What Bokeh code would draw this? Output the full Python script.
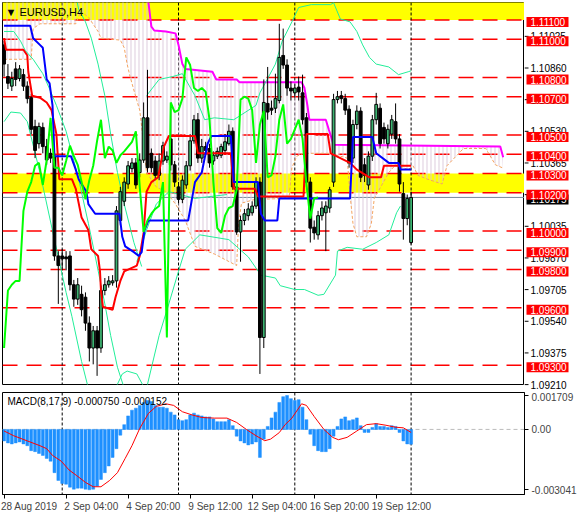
from bokeh.plotting import figure
from bokeh.models import (Range1d, FixedTicker, Span, BoxAnnotation, Label, ColumnDataSource)
from bokeh.layouts import column, row
from bokeh.core.properties import value
from bokeh.embed import file_html
from bokeh.resources import INLINE

# ---------------- data (EURUSD H4 candles, bar index 0..105) ----------------
OPEN = [1.10970, 1.10805, 1.10755, 1.10845, 1.10795, 1.10815, 1.10755, 1.10695, 1.10545, 1.10455,
        1.10540, 1.10440, 1.10405, 1.10390, 1.09870, 1.09870, 1.09865, 1.09870, 1.09720, 1.09645,
        1.09670, 1.09655, 1.09520, 1.09390, 1.09480, 1.09390, 1.09690, 1.09720, 1.09730, 1.09740,
        1.10055, 1.10155, 1.10245, 1.10325, 1.10355, 1.10305, 1.10370, 1.10590, 1.10405, 1.10365,
        1.10290, 1.10365, 1.10370, 1.10480, 1.10345, 1.10230, 1.10165, 1.10240, 1.10340, 1.10470,
        1.10580, 1.10380, 1.10440, 1.10430, 1.10365, 1.10390, 1.10395, 1.10420, 1.10455, 1.10520,
        1.10230, 1.09995, 1.10055, 1.10080, 1.10095, 1.10130, 1.10255, 1.09445, 1.10665, 1.10640,
        1.10640, 1.10680, 1.10915, 1.10865, 1.10745, 1.10720, 1.10750, 1.10720, 1.10590, 1.10255,
        1.10020, 1.09980, 1.10080, 1.10095, 1.10120, 1.10255, 1.10685, 1.10705, 1.10690, 1.10635,
        1.10380, 1.10555, 1.10625, 1.10345, 1.10240, 1.10390, 1.10580, 1.10640, 1.10540, 1.10455,
        1.10505, 1.10570, 1.10480, 1.10195, 1.10065, 1.09940]
HIGH = [1.10990, 1.10870, 1.10830, 1.10880, 1.10865, 1.10845, 1.10780, 1.10715, 1.10580, 1.10565,
        1.10565, 1.10480, 1.10430, 1.10405, 1.09895, 1.09905, 1.09895, 1.09895, 1.09745, 1.09755,
        1.09715, 1.09680, 1.09555, 1.09505, 1.09505, 1.09715, 1.09755, 1.09765, 1.09770, 1.10130,
        1.10230, 1.10280, 1.10365, 1.10380, 1.10380, 1.10405, 1.10670, 1.10840, 1.10430, 1.10390,
        1.10405, 1.10465, 1.10415, 1.10640, 1.10365, 1.10255, 1.10290, 1.10365, 1.10505, 1.10605,
        1.10615, 1.10480, 1.10465, 1.10455, 1.10415, 1.10435, 1.10455, 1.10505, 1.10555, 1.10540,
        1.10255, 1.10080, 1.10115, 1.10145, 1.10155, 1.10280, 1.10280, 1.10790, 1.10855, 1.10680,
        1.10820, 1.11080, 1.11055, 1.10895, 1.10780, 1.10765, 1.10805, 1.10815, 1.10615, 1.10280,
        1.10055, 1.10105, 1.10155, 1.10155, 1.10230, 1.10715, 1.10730, 1.10730, 1.10715, 1.10655,
        1.10580, 1.10655, 1.10645, 1.10380, 1.10415, 1.10605, 1.10720, 1.10665, 1.10565, 1.10555,
        1.10605, 1.10665, 1.10505, 1.10255, 1.10190, 1.10205]
LOW = [1.10805, 1.10740, 1.10730, 1.10755, 1.10780, 1.10730, 1.10665, 1.10505, 1.10380, 1.10430,
       1.10405, 1.10345, 1.10355, 1.09845, 1.09620, 1.09805, 1.09795, 1.09690, 1.09605, 1.09615,
       1.09555, 1.09480, 1.09320, 1.09305, 1.09245, 1.09365, 1.09665, 1.09705, 1.09715, 1.09705,
       1.10030, 1.10130, 1.10220, 1.10305, 1.10220, 1.10280, 1.10355, 1.10305, 1.10305, 1.10265,
       1.10265, 1.10345, 1.10355, 1.10315, 1.10230, 1.10145, 1.10145, 1.10220, 1.10315, 1.10455,
       1.10355, 1.10355, 1.10395, 1.10330, 1.10345, 1.10375, 1.10380, 1.10405, 1.10445, 1.10215,
       1.09980, 1.09840, 1.10030, 1.10055, 1.10080, 1.10115, 1.09255, 1.09390, 1.10580, 1.10605,
       1.10615, 1.10665, 1.10845, 1.10705, 1.10680, 1.10695, 1.10680, 1.10555, 1.10230, 1.09940,
       1.09955, 1.09955, 1.10055, 1.09895, 1.10095, 1.10230, 1.10665, 1.10665, 1.10605, 1.10330,
       1.10355, 1.10530, 1.10255, 1.10255, 1.10215, 1.10365, 1.10555, 1.10430, 1.10455, 1.10430,
       1.10480, 1.10455, 1.10205, 1.09955, 1.10030, 1.09930]
CLOSE = [1.10870, 1.10770, 1.10795, 1.10790, 1.10845, 1.10755, 1.10690, 1.10530, 1.10420, 1.10545,
         1.10440, 1.10370, 1.10380, 1.09870, 1.09820, 1.09855, 1.09855, 1.09720, 1.09645, 1.09720,
         1.09590, 1.09520, 1.09390, 1.09480, 1.09390, 1.09690, 1.09720, 1.09740, 1.09740, 1.10105,
         1.10205, 1.10255, 1.10340, 1.10355, 1.10240, 1.10370, 1.10590, 1.10330, 1.10330, 1.10290,
         1.10365, 1.10445, 1.10390, 1.10345, 1.10255, 1.10165, 1.10265, 1.10340, 1.10470, 1.10580,
         1.10380, 1.10440, 1.10420, 1.10355, 1.10395, 1.10415, 1.10440, 1.10465, 1.10520, 1.10230,
         1.09995, 1.10055, 1.10090, 1.10115, 1.10130, 1.10255, 1.09445, 1.10670, 1.10620, 1.10630,
         1.10690, 1.10905, 1.10865, 1.10745, 1.10730, 1.10745, 1.10725, 1.10580, 1.10255, 1.10015,
         1.09990, 1.10080, 1.10120, 1.10130, 1.10215, 1.10685, 1.10700, 1.10690, 1.10630, 1.10355,
         1.10555, 1.10625, 1.10280, 1.10290, 1.10390, 1.10580, 1.10660, 1.10455, 1.10480, 1.10530,
         1.10580, 1.10480, 1.10245, 1.10065, 1.10170, 1.10175]
CHIKOU_SHIFT = 24

# Ichimoku lines (bar index, price)
TENKAN_X = [0, 0.5, 5, 6, 6.25, 7.25, 9.25, 11, 12.25, 12.5, 13.5, 14.25, 17.5, 18.5, 20, 21.75, 22.5,
            24.25, 24.75, 25, 25.5, 28, 28.75, 30, 31, 34.25, 35, 36, 36.75, 38, 39.75, 41.25, 42.5,
            49.25, 50, 58.5, 59.25, 64.75, 65.5, 77.25, 78, 83.5, 84.25, 89.25, 91, 94.25, 97.25, 98, 105]
TENKAN_Y = [1.11005, 1.10945, 1.10945, 1.10915, 1.10830, 1.10705, 1.10695, 1.10670, 1.10630, 1.10605,
            1.10505, 1.10270, 1.10270, 1.10220, 1.10070, 1.10005, 1.09905, 1.09870, 1.09790, 1.09690,
            1.09605, 1.09590, 1.09655, 1.09740, 1.09790, 1.09820, 1.09870, 1.09990, 1.10205, 1.10255,
            1.10280, 1.10440, 1.10495, 1.10495, 1.10405, 1.10405, 1.10220, 1.10220, 1.10180, 1.10180,
            1.10505, 1.10505, 1.10405, 1.10355, 1.10320, 1.10280, 1.10280, 1.10340, 1.10340]
KIJUN_X = [0, 6.75, 7.5, 9.25, 10, 11, 11.75, 12.5, 13, 17.25, 18.5, 19.25, 21.25, 21.75, 23.5, 29.75,
           30.5, 31.25, 33.5, 34.75, 35.5, 36.25, 37.25, 47.5, 48.5, 49.25, 51, 52.5, 53.5, 58.5, 59.25,
           65.5, 66.25, 67.25, 70.5, 71, 89.25, 90, 95, 96, 99.25, 101.75, 102.25, 105]
KIJUN_Y = [1.11070, 1.11070, 1.11005, 1.10970, 1.10955, 1.10790, 1.10770, 1.10655, 1.10390, 1.10390,
           1.10320, 1.10270, 1.10205, 1.10140, 1.10090, 1.10090, 1.09970, 1.09920, 1.09890, 1.09870,
           1.09890, 1.10005, 1.10055, 1.10055, 1.10170, 1.10255, 1.10305, 1.10455, 1.10495, 1.10495,
           1.10255, 1.10255, 1.10090, 1.10055, 1.10055, 1.10170, 1.10170, 1.10490, 1.10490, 1.10405,
           1.10355, 1.10355, 1.10320, 1.10320]
SPAN_A_X = [0, 7, 7.5, 9.25, 18.5, 19.75, 21.75, 24.25, 25, 30, 31, 31.75, 32.5, 34.25, 35, 36, 36.75,
            39.25, 41.75, 44.25, 46.75, 49.25, 54.25, 60, 60.5, 61.25, 64.75, 73.5, 74.25, 75.5, 77.25,
            84.25, 88.5, 89.25, 90, 91, 93.5, 94.75, 95.5, 99.25, 101, 104.25, 105.5, 106.75, 109.25,
            113, 114.25, 118.5, 124.25, 126.75, 128.5]
SPAN_A_Y = [1.10895, 1.10895, 1.11055, 1.11080, 1.11080, 1.11145, 1.11115, 1.11040, 1.11005, 1.10995,
            1.10955, 1.10870, 1.10805, 1.10680, 1.10630, 1.10455, 1.10305, 1.10230, 1.10205, 1.10140,
            1.10055, 1.09920, 1.09880, 1.09820, 1.10040, 1.10145, 1.10165, 1.10170, 1.10330, 1.10390,
            1.10405, 1.10405, 1.10380, 1.10190, 1.10040, 1.09970, 1.09970, 1.10040, 1.10170, 1.10305,
            1.10345, 1.10320, 1.10340, 1.10290, 1.10270, 1.10245, 1.10340, 1.10430, 1.10430, 1.10345,
            1.10330]
SPAN_B_X = [0, 36.75, 37.25, 38, 38.75, 41.75, 44.25, 45, 46, 46.75, 53.75, 54.75, 60, 60.75, 76.75,
            77.5, 78.25, 78.75, 83, 83.75, 85, 128, 128.75]
SPAN_B_Y = [1.11255, 1.11255, 1.11190, 1.11065, 1.11045, 1.11040, 1.11030, 1.10970, 1.10870, 1.10845,
            1.10830, 1.10790, 1.10790, 1.10775, 1.10775, 1.10745, 1.10655, 1.10580, 1.10580, 1.10530,
            1.10450, 1.10440, 1.10385]

# thin band lines (bar index, price)
BAND_LINES = [
    ([0, 2.5, 4.25, 5.5, 7.5, 10, 11.75, 13.5, 16, 19.25, 21.75, 23.5, 26, 27.5, 29.25, 31],
     [1.11040, 1.11040, 1.10990, 1.10940, 1.10895, 1.10820, 1.10740, 1.10655, 1.10520, 1.10270,
      1.10040, 1.09870, 1.09620, 1.09455, 1.09290, 1.09180]),
    ([0, 1.75, 4.25, 6, 9.25, 13, 16, 17.5, 20, 21.75],
     [1.10570, 1.10620, 1.10615, 1.10570, 1.10305, 1.09955, 1.09680, 1.09555, 1.09320, 1.09180]),
    ([18.5, 19.25, 21, 22.5, 24.25, 26, 27.5, 29.25, 31, 33.5, 35.5],
     [1.11230, 1.11155, 1.11090, 1.11005, 1.10870, 1.10705, 1.10505, 1.10305, 1.10140, 1.09940, 1.09815]),
    ([34.25, 36.75, 39.25, 42.5, 49.25, 57.5],
     [1.09840, 1.10005, 1.10140, 1.10205, 1.10170, 1.10190]),
    ([28.75, 30.5, 31.75, 34.25, 36.25],
     [1.09180, 1.09255, 1.09270, 1.09255, 1.09180]),
    ([36.75, 40, 42.5, 45, 46.75, 50.5, 58, 63, 66.25, 70, 71.25, 75, 77.5, 81, 82.5, 85.5, 86, 88.5,
      92.5, 96, 99.25, 101.25, 102.25],
     [1.09180, 1.09455, 1.09620, 1.09790, 1.09905, 1.09980, 1.09955, 1.09865, 1.09770, 1.09755,
      1.09715, 1.09695, 1.09695, 1.09665, 1.09670, 1.09770, 1.09895, 1.09915, 1.09905, 1.09940,
      1.09980, 1.10095, 1.10130]),
    ([36.75, 40, 43.5, 46, 49.25, 51.75, 54.25, 59.25, 65, 66, 70, 71.75, 74.25, 76, 79.25, 84.25, 85,
      86.75, 89.25, 91, 92.5, 94.25, 96, 99.25, 101.75, 104.25, 105],
     [1.10705, 1.10790, 1.10805, 1.10820, 1.10705, 1.10580, 1.10590, 1.10580, 1.10655, 1.10720,
      1.10870, 1.10990, 1.11090, 1.11165, 1.11180, 1.11180, 1.11190, 1.11105, 1.11090, 1.11040,
      1.10970, 1.10905, 1.10870, 1.10855, 1.10815, 1.10830, 1.10835]),
]

# horizontal levels and zones
LEVELS = [1.11100, 1.11000, 1.10800, 1.10700, 1.10500, 1.10400, 1.10300, 1.10200,
          1.10000, 1.09900, 1.09800, 1.09600, 1.09300]
ZONES = [(1.11100, 1.11300), (1.10200, 1.10300)]
BID = 1.10175
PRICE_TICKS = [1.09210, 1.09375, 1.09540, 1.09705, 1.09870, 1.10035, 1.10200,
               1.10365, 1.10530, 1.10695, 1.10860, 1.11025]
SEPARATORS = [15, 45, 75, 105]

# MACD(8,17,9): histogram (x1e-5) and signal line
MACD_HIST = [-58, -68, -73, -68, -63, -73, -82, -107, -112, -121, -131, -146, -160, -218, -257, -272,
             -276, -291, -301, -296, -296, -301, -304.1, -301, -286, -252, -218, -184, -141, -97, -29,
             24, 68, 97, 107, 121, 136, 146, 141, 121, 112, 112, 107, 87, 73, 49, 44, 49, 73, 82, 73,
             68, 63, 63, 53, 39, 39, 39, 49, 19, -34, -58, -68, -78, -73, -63, -141, -49, 15, 58, 87,
             136, 165, 170.9, 155, 146, 150, 112, 49, -24, -82, -107, -112, -112, -97, -34, 15, 53, 63,
             44, 49, 58, 19, -15, -15, 10, 29, 15, 15, 10, 19, 15, -15, -58, -73, -75]
SIG_X = [0, 2.5, 6, 9.25, 11, 12.5, 14.75, 16.75, 18.75, 21, 23, 25, 27.25, 29.25, 31.25, 33, 35,
         37.25, 39.25, 41.75, 43.75, 46, 48.5, 51, 54.25, 57.5, 60, 62.5, 65, 67.25, 68.75, 71, 72.5,
         74.25, 76.75, 78, 80, 82.5, 84.75, 86.25, 88.5, 91, 93.5, 96, 98.5, 101, 103, 105]
SIG_V = [-8, -32, -58, -82, -97, -131, -160, -204, -233, -267, -289, -289, -257, -218, -146, -82, 5,
         81, 116, 129, 121, 89, 73, 60, 57, 57, 35, 0, -32, -57, -49, -16, 24, 57, 129, 121, 65, 0,
         -40, -52, -40, -8, 24, 29, 21, 11, 8, -15.2]
MACD_TICKS = {0.001709: "0.001709", 0: "0.00", -0.003041: "-0.003041"}

TIME_BARS = [0, 16, 32, 48, 64, 80, 96]
TIME_LABELS = ["28 Aug 2019", "2 Sep 04:00", "4 Sep 20:00", "9 Sep 12:00",
               "12 Sep 04:00", "16 Sep 20:00", "19 Sep 12:00"]

# ---------------- styling / layout ----------------
FONT = "Liberation Sans"
FS = "10px"
X_START, X_END = -0.4, 134.25
Y_LOW, Y_HIGH = 1.0920, 1.11191
BULL = "#3CB371"
FRAME_W, FRAME_H = 522, 382
TOP_B, BOT_B = 2, 8
SIDE_W = 46

p = figure(frame_width=FRAME_W, frame_height=FRAME_H, x_range=Range1d(X_START, X_END),
           y_range=Range1d(Y_LOW, Y_HIGH), y_axis_location=None, x_axis_location=None,
           toolbar_location=None, output_backend="svg",
           min_border_left=2, min_border_top=TOP_B, min_border_bottom=BOT_B, min_border_right=0)
p.grid.visible = False
p.outline_line_color = "black"
p.outline_line_alpha = 1.0
p.background_fill_color = "white"

for lo, hi in ZONES:
    p.add_layout(BoxAnnotation(bottom=lo, top=hi, fill_color="#FFFF00", fill_alpha=1.0,
                               line_alpha=0, level="underlay"))
for lv in LEVELS:
    p.add_layout(Span(location=lv, dimension="width", line_color="#FF0000", line_width=1.5,
                      line_dash="15 9", level="underlay"))
p.add_layout(Span(location=BID, dimension="width", line_color="#778899", line_width=1,
                  level="underlay"))
for sp in SEPARATORS:
    p.add_layout(Span(location=sp, dimension="height", line_color="black", line_width=1,
                      line_dash="3 2", level="underlay"))

# cloud hatch between span A and span B
cloud_x = SPAN_A_X + SPAN_B_X[::-1]
cloud_y = SPAN_A_Y + SPAN_B_Y[::-1]
p.patch(cloud_x, cloud_y, fill_alpha=0, line_alpha=0, hatch_pattern="vertical_line",
        hatch_color="#D9C7D9", hatch_scale=4, hatch_weight=1, hatch_alpha=0.9)
p.line(SPAN_A_X, SPAN_A_Y, line_color="#F4A460", line_width=1, line_dash="3 2")
p.line(SPAN_B_X, SPAN_B_Y, line_color="#FF00FF", line_width=2)

for bx, by in BAND_LINES:
    p.line(bx, by, line_color="#22EE99", line_width=1)

# candles
n = len(OPEN)
bars = list(range(n))
src = ColumnDataSource(dict(
    x=bars, o=OPEN, h=HIGH, l=LOW, c=CLOSE,
    top=[max(a, b) for a, b in zip(OPEN, CLOSE)],
    bot=[min(a, b) for a, b in zip(OPEN, CLOSE)],
    col=[BULL if c >= o else "black" for o, c in zip(OPEN, CLOSE)],
))
p.segment(x0="x", y0="h", x1="x", y1="l", source=src, line_color="black", line_width=1)
p.vbar(x="x", width=0.72, top="top", bottom="bot", source=src, fill_color="col",
       line_color="black", line_width=1)

# ichimoku main lines
p.line(TENKAN_X, TENKAN_Y, line_color="#FF0000", line_width=2)
p.line(KIJUN_X, KIJUN_Y, line_color="#0000FF", line_width=2)
chik_x = bars[:n - CHIKOU_SHIFT]
chik_y = CLOSE[CHIKOU_SHIFT:]
p.line(chik_x, chik_y, line_color="#00FF00", line_width=2)

p.add_layout(Label(x=X_START, y=Y_HIGH, x_offset=3, y_offset=-3, text="\u25BC EURUSD,H4",
                   text_align="left", text_baseline="top", text_color="black",
                   text_font=FONT, text_font_size="11px"))

# ---------------- price scale panel (right of main chart) ----------------
ppx = (Y_HIGH - Y_LOW) / FRAME_H
side_h = TOP_B + FRAME_H + BOT_B
s = figure(frame_width=SIDE_W, frame_height=side_h, x_range=Range1d(0, SIDE_W),
           y_range=Range1d(Y_LOW - BOT_B * ppx, Y_HIGH + TOP_B * ppx),
           x_axis_location=None, y_axis_location=None, toolbar_location=None,
           output_backend="svg", min_border=0)
s.grid.visible = False
s.outline_line_color = None
s.background_fill_color = "white"
s.segment(x0=[0] * len(PRICE_TICKS), y0=PRICE_TICKS, x1=[4] * len(PRICE_TICKS), y1=PRICE_TICKS,
          line_color="black", line_width=1)
s.text(x=[6] * len(PRICE_TICKS), y=PRICE_TICKS, text=[f"{t:.5f}" for t in PRICE_TICKS],
       text_align="left", text_baseline="middle", text_color="black",
       text_font=value(FONT), text_font_size=FS)
# current price box first, level boxes drawn over it
s.rect(x=[23], y=[BID], width=42, height=10, height_units="screen",
       fill_color="black", line_color=None)
s.text(x=[6], y=[BID], text=[f"{BID:.5f}"], text_align="left", text_baseline="middle",
       text_color="white", text_font=value(FONT), text_font_size=FS)
s.rect(x=[23] * len(LEVELS), y=LEVELS, width=42, height=10, height_units="screen",
       fill_color="#FF0000", line_color=None)
s.text(x=[6] * len(LEVELS), y=LEVELS, text=[f"{t:.5f}" for t in LEVELS],
       text_align="left", text_baseline="middle", text_color="white",
       text_font=value(FONT), text_font_size=FS)

# ---------------- MACD panel ----------------
m = figure(frame_width=FRAME_W, frame_height=102, x_range=p.x_range,
           y_range=Range1d(-0.00328, 0.00186), y_axis_location="right",
           toolbar_location=None, output_backend="svg",
           min_border_left=2, min_border_top=0, min_border_bottom=2, min_border_right=0)
m.grid.visible = False
m.outline_line_color = "black"
m.outline_line_alpha = 1.0

my = m.yaxis[0]
my.ticker = FixedTicker(ticks=list(MACD_TICKS.keys()))
my.major_label_overrides = dict(MACD_TICKS)
my.major_tick_out = 4
my.major_tick_in = 0
my.minor_tick_out = 0
my.minor_tick_in = 0
my.major_label_standoff = 3
my.major_label_text_font = FONT
my.major_label_text_font_size = FS
my.axis_line_color = "black"

mx = m.xaxis[0]
label_pos = [b + 6.5 for b in TIME_BARS]
mx.ticker = FixedTicker(ticks=label_pos, minor_ticks=TIME_BARS)
mx.major_label_overrides = {pos: lab for pos, lab in zip(label_pos, TIME_LABELS)}
mx.major_tick_out = 0
mx.major_tick_in = 0
mx.minor_tick_out = 4
mx.minor_tick_in = 0
mx.major_label_standoff = 2
mx.major_label_text_font = FONT
mx.major_label_text_font_size = FS
mx.axis_line_color = "black"

m.add_layout(Span(location=0, dimension="width", line_color="#BBBBBB", line_width=1,
                  line_dash="4 3", level="underlay"))
for sp in SEPARATORS:
    m.add_layout(Span(location=sp, dimension="height", line_color="black", line_width=1,
                      line_dash="3 2", level="underlay"))
m.vbar(x=bars, top=[v * 1e-5 for v in MACD_HIST], bottom=0, width=0.75,
       fill_color="#1E90FF", line_color="#1E90FF", line_width=0.5)
m.line(SIG_X, [v * 1e-5 for v in SIG_V], line_color="#FF0000", line_width=1)
m.add_layout(Label(x=X_START, y=0.00186, x_offset=5, y_offset=-3,
                   text="MACD(8,17,9) -0.000750 -0.000152", text_align="left",
                   text_baseline="top", text_color="black", text_font=FONT,
                   text_font_size=FS))

layout = column(row(p, s, spacing=0), m, spacing=0)
open("out.html", "w").write(file_html(layout, INLINE))
